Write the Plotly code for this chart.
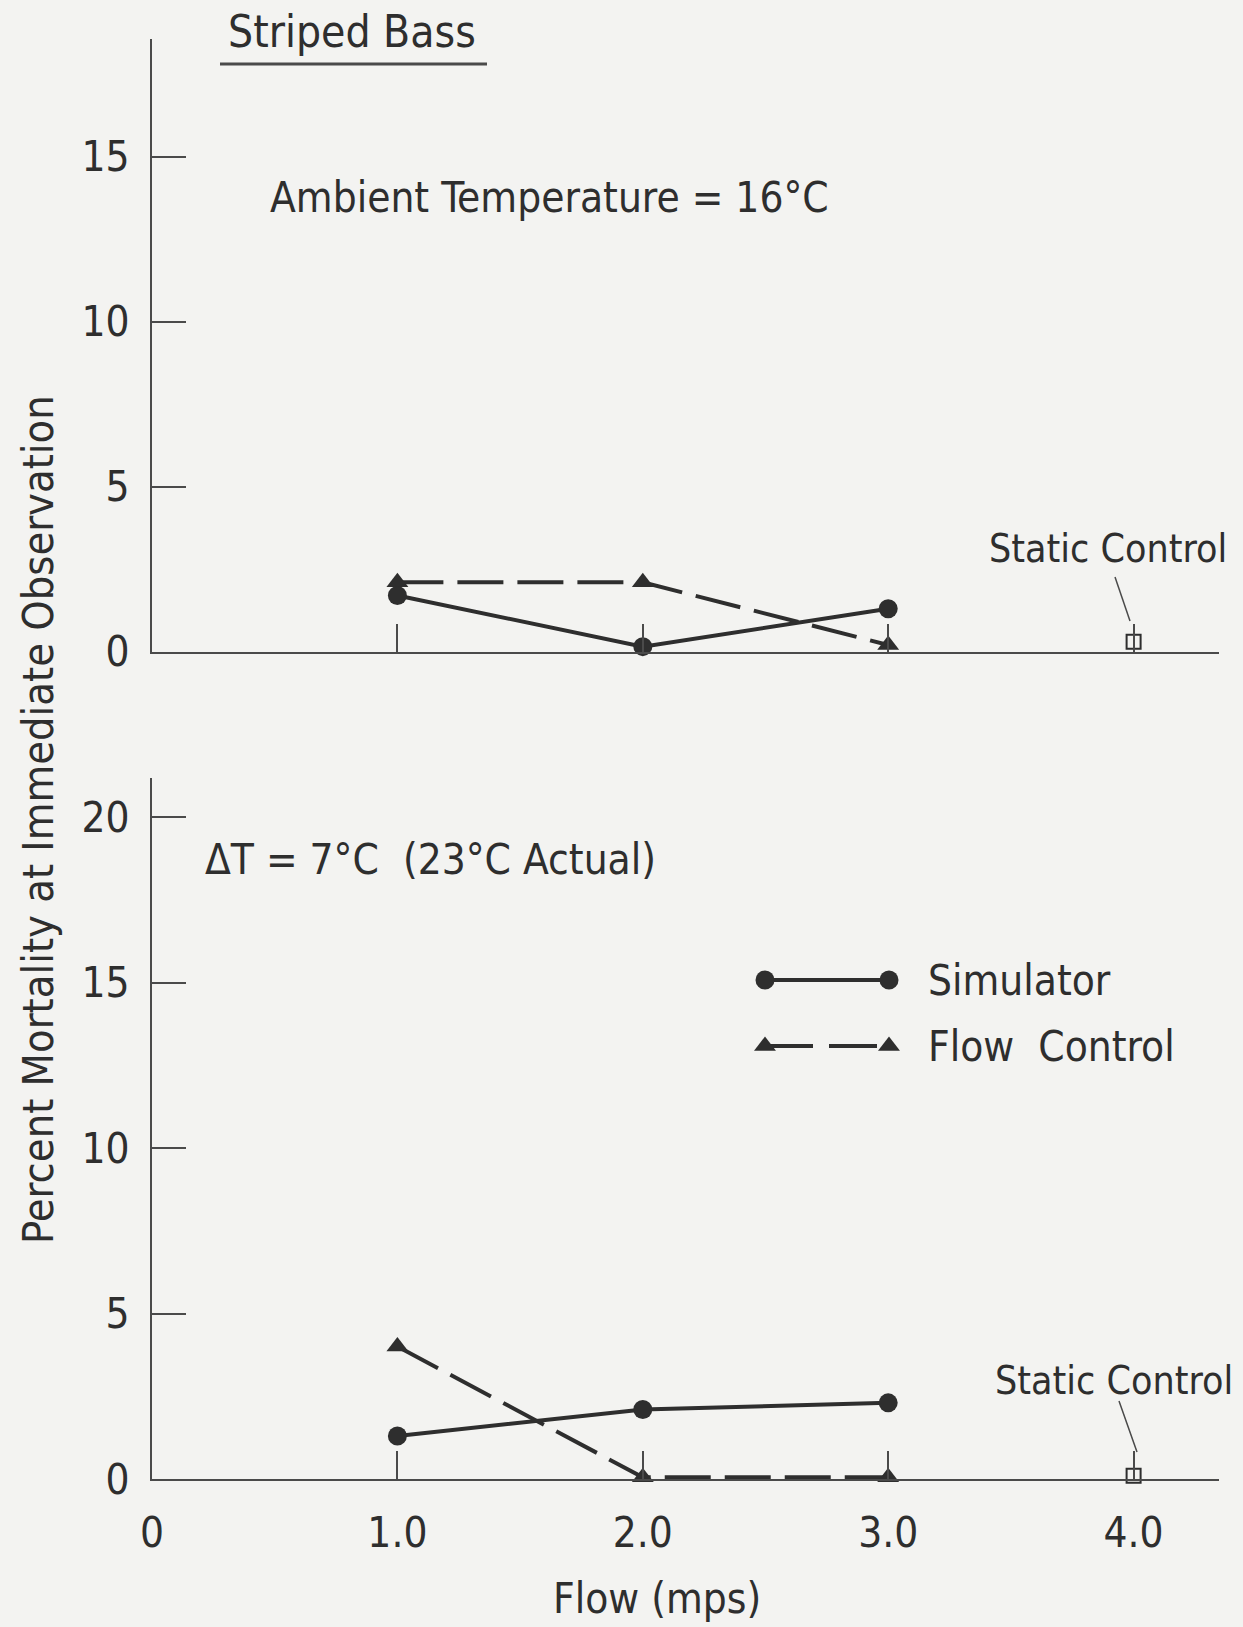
import plotly.graph_objects as go

# ---- data ----
flow = [1.0, 2.0, 3.0]
static_flow = [4.0]

sim_ambient = [1.7, 0.15, 1.3]
flowctl_ambient = [2.1, 2.1, 0.2]
static_ambient = [0.3]

sim_dt = [1.3, 2.1, 2.3]
flowctl_dt = [4.0, 0.05, 0.05]
static_dt = [0.1]

x_tickvals = [0, 1, 2, 3, 4]
x_ticktext = ["0", "1.0", "2.0", "3.0", "4.0"]
y_top_ticks = [0, 5, 10, 15]
y_bot_ticks = [0, 5, 10, 15, 20]

# ---- layout geometry ----
W, H = 1243, 1627
L, R, T, B = 152, 24, 39, 148
PW, PH = W - L - R, H - T - B
FONT = "Liberation Sans Narrow, DejaVu Sans Condensed, Arial Narrow, sans-serif"
FS = 42
INK = "#2e2e2e"
AX = "#4a4a4a"
BG = "#f3f3f1"


def px(x):
    return (x - L) / PW


def py(y):
    return (H - B - y) / PH


fig = go.Figure()

line_sim = dict(color=INK, width=4)
line_fc = dict(color=INK, width=4, dash="46px,14px")
mk_c = dict(symbol="circle", size=19, color=INK)
mk_t = dict(symbol="triangle-up", size=19, color=INK)
mk_s = dict(symbol="square-open", size=14, color=INK, line=dict(width=2, color=INK))

for xa, ya, sim, fc, st in [("x", "y", sim_ambient, flowctl_ambient, static_ambient),
                            ("x2", "y2", sim_dt, flowctl_dt, static_dt)]:
    fig.add_trace(go.Scatter(x=flow, y=fc, mode="lines+markers", line=line_fc, marker=mk_t,
                             xaxis=xa, yaxis=ya, cliponaxis=False, showlegend=False))
    fig.add_trace(go.Scatter(x=flow, y=sim, mode="lines+markers", line=line_sim, marker=mk_c,
                             xaxis=xa, yaxis=ya, cliponaxis=False, showlegend=False))
    fig.add_trace(go.Scatter(x=static_flow, y=st, mode="markers", marker=mk_s,
                             xaxis=xa, yaxis=ya, cliponaxis=False, showlegend=False))

# legend samples on a hidden full-page axis measured in page pixels
leg_x = [765, 889]
fig.add_trace(go.Scatter(x=leg_x, y=[980, 980], mode="lines+markers", line=line_sim, marker=mk_c,
                         xaxis="x3", yaxis="y3", cliponaxis=False, showlegend=False))
fig.add_trace(go.Scatter(x=leg_x, y=[1046, 1046], mode="lines+markers",
                         line=dict(color=INK, width=4, dash="48px,16px"), marker=mk_t,
                         xaxis="x3", yaxis="y3", cliponaxis=False, showlegend=False))

xmax = PW / 245.4
top_dom = [py(651.6), 1.0]
bot_dom = [0.0, py(778.2)]

common_x = dict(range=[0, xmax], showgrid=False, zeroline=False, showline=True,
                linecolor=AX, linewidth=2, ticks="inside", ticklen=28, tickwidth=2,
                tickcolor=AX, mirror=False)
common_y = dict(showgrid=False, zeroline=False, showline=True, linecolor=AX, linewidth=2,
                ticks="inside", ticklen=34, tickwidth=2, tickcolor=AX,
                tickfont=dict(family=FONT, size=FS, color=INK), ticklabelstandoff=12)

fig.update_layout(
    width=W, height=H,
    margin=dict(l=L, r=R, t=T, b=B, pad=0),
    paper_bgcolor=BG, plot_bgcolor="rgba(0,0,0,0)",
    showlegend=False,
    font=dict(family=FONT, color=INK),
    xaxis=dict(**common_x, domain=[0, 1], anchor="y", tickvals=[1, 2, 3, 4],
               showticklabels=False),
    yaxis=dict(**common_y, domain=top_dom, anchor="x", range=[0, 612.6 / 33.0],
               tickvals=y_top_ticks),
    xaxis2=dict(**common_x, domain=[0, 1], anchor="y2", tickvals=x_tickvals,
                ticktext=x_ticktext, tickfont=dict(family=FONT, size=FS, color=INK),
                ticklabelstandoff=16),
    yaxis2=dict(**common_y, domain=bot_dom, anchor="x2", range=[0, 700.8 / 33.1],
                tickvals=y_bot_ticks),
    xaxis3=dict(domain=[0, 1], range=[L, W - R], visible=False, anchor="y3"),
    yaxis3=dict(domain=[0, 1], range=[H - B, T], visible=False, anchor="x3"),
)

ann = []


def text(s, x, y, size=FS, xanchor="left", angle=0):
    ann.append(dict(text=s, x=px(x), y=py(y), xref="paper", yref="paper", showarrow=False,
                    xanchor=xanchor, yanchor="middle", textangle=angle,
                    font=dict(family=FONT, size=size, color=INK)))


text("Striped Bass", 352, 32, size=44, xanchor="center")
text("Ambient Temperature = 16°C", 268, 197)
text("Static Control", 1229, 548, size=39, xanchor="right")
text("ΔT = 7°C\u00a0 (23°C Actual)", 203, 859)
text("Simulator", 926, 980)
text("Flow\u00a0 Control", 926, 1046)
text("Static Control", 1235, 1380, size=39, xanchor="right")
text("Flow (mps)", 657, 1598, xanchor="center")
text("Percent Mortality at Immediate Observation", 38, 820, size=43, xanchor="center", angle=-90)
fig.update_layout(annotations=ann)

shapes = []


def seg(x0, y0, x1, y1, w=2):
    shapes.append(dict(type="line", xref="paper", yref="paper", x0=px(x0), y0=py(y0),
                       x1=px(x1), y1=py(y1), line=dict(color=AX, width=w)))


seg(220, 64, 487, 64, 3)       # underline of title
seg(1115, 577, 1130, 621, 1.5)  # leader, top static control
seg(1119, 1401, 1137, 1452, 1.5)  # leader, bottom static control
fig.update_layout(shapes=shapes)

fig.write_html("out.html")
